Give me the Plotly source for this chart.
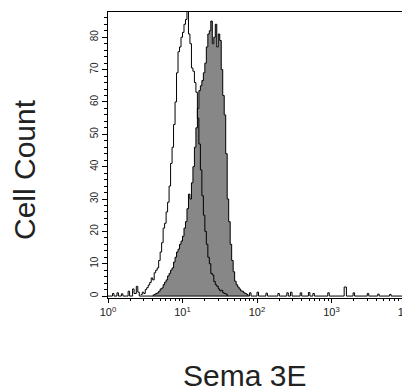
import plotly.graph_objects as go

# ---- data (log10 bin centres, counts) ----
open_log = [0.44, 0.46, 0.48, 0.50, 0.52, 0.54, 0.56, 0.58, 0.60, 0.62, 0.64, 0.66, 0.68,
            0.70, 0.72, 0.74, 0.76, 0.78, 0.80, 0.82, 0.84, 0.86, 0.88, 0.90, 0.92, 0.94,
            0.96, 0.98, 1.00, 1.02, 1.04, 1.06, 1.08, 1.10, 1.12, 1.14, 1.16, 1.18, 1.20,
            1.22, 1.24, 1.26, 1.28, 1.30, 1.32, 1.34, 1.36, 1.38, 1.40, 1.42, 1.44, 1.46,
            1.48, 1.50, 1.52, 1.54, 1.56, 1.58, 1.60]
open_count = [0.5, 1.2, 0.8, 2.0, 2.6, 3.4, 4.2, 5.6, 5.0, 7.2, 8.0, 8.7, 11.0,
              13.6, 16.5, 21.0, 22.5, 26.0, 29.0, 34.0, 41.0, 46.0, 53.0, 60.0, 69.0, 75.5,
              77.0, 80.0, 81.5, 84.0, 85.5, 88.0, 81.0, 78.0, 70.5, 69.5, 66.0, 63.0, 55.0,
              47.0, 39.0, 31.0, 25.0, 20.0, 16.0, 12.0, 10.0, 7.0, 6.5, 4.5, 3.5, 3.0,
              2.2, 1.6, 1.8, 1.0, 0.8, 0.6, 0.0]

filled_log = [0.60, 0.62, 0.64, 0.66, 0.68, 0.70, 0.72, 0.74, 0.76, 0.78, 0.80, 0.82, 0.84,
              0.86, 0.88, 0.90, 0.92, 0.94, 0.96, 0.98, 1.00, 1.02, 1.04, 1.06, 1.08, 1.10,
              1.12, 1.14, 1.16, 1.18, 1.20, 1.22, 1.24, 1.26, 1.28, 1.30, 1.32, 1.34, 1.36,
              1.38, 1.40, 1.42, 1.44, 1.46, 1.48, 1.50, 1.52, 1.54, 1.56, 1.58, 1.60, 1.62,
              1.64, 1.66, 1.68, 1.70, 1.72, 1.74, 1.76, 1.78, 1.80, 1.82, 1.84, 1.86, 1.88]
filled_count = [0.3, 0.5, 0.8, 1.0, 1.5, 2.2, 2.5, 3.5, 4.3, 5.0, 6.2, 7.0, 8.0,
                8.7, 10.5, 12.0, 13.6, 14.5, 16.0, 17.0, 18.5, 21.0, 23.0, 27.0, 31.5, 30.0,
                35.0, 40.0, 46.0, 52.0, 58.0, 63.5, 65.0, 66.6, 69.0, 72.0, 77.0, 81.0, 82.0,
                85.0, 78.0, 80.0, 84.0, 77.0, 81.0, 79.0, 70.0, 62.0, 56.0, 44.0, 30.0, 23.0,
                16.0, 11.0, 7.5, 4.6, 3.5, 2.8, 2.2, 1.6, 1.5, 1.0, 0.8, 0.5, 0.0]

noise_log = [0.00, 0.06, 0.08, 0.12, 0.14, 0.18, 0.20, 0.27, 0.29, 0.33, 0.35, 0.38,
             0.40, 0.42, 1.90, 1.92, 2.00, 2.02, 2.12, 2.14, 2.28, 2.30, 2.40, 2.42,
             2.45, 2.47, 2.58, 2.60, 2.69, 2.71, 2.75, 2.77, 2.95, 2.97, 3.17, 3.20,
             3.29, 3.31, 3.48, 3.50, 3.62, 3.64, 3.78, 3.80, 4.00]
noise_count = [0, 0.8, 0, 1.0, 0, 0.7, 0, 1.5, 0, 2.2, 0.8, 3.0,
               1.2, 0, 1.0, 0, 1.2, 0, 0.9, 0, 0.8, 0, 1.0, 0,
               1.2, 0, 1.0, 0, 1.1, 0, 0.8, 0, 1.0, 0, 2.8, 0,
               1.0, 0, 0.8, 0, 0.6, 0, 0.5, 0, 0]

x_tickvals = [1, 10, 100, 1000, 10000]
x_ticktext = ["10<sup>0</sup>", "10<sup>1</sup>", "10<sup>2</sup>", "10<sup>3</sup>", "10<sup>4</sup>"]
y_tickvals = [0, 10, 20, 30, 40, 50, 60, 70, 80]

FONT = "Liberation Sans, Arial, sans-serif"

fig = go.Figure()
fig.add_trace(go.Scatter(
    x=[10 ** v for v in filled_log], y=filled_count, mode="lines",
    line=dict(color="black", width=1, shape="hv"),
    fill="tozeroy", fillcolor="#878787", hoverinfo="skip"))
fig.add_trace(go.Scatter(
    x=[10 ** v for v in open_log], y=open_count, mode="lines",
    line=dict(color="black", width=1, shape="hv"), hoverinfo="skip"))
fig.add_trace(go.Scatter(
    x=[10 ** v for v in noise_log], y=noise_count, mode="lines",
    line=dict(color="black", width=1, shape="hv"), hoverinfo="skip"))

minor_x = [m * 10 ** k for k in range(4) for m in range(2, 10)]

# page body has an 8px default margin, so the figure is sized to compensate
fig.update_layout(
    width=402, height=382,
    margin=dict(l=100, r=4, t=4, b=92, autoexpand=False),
    paper_bgcolor="white", plot_bgcolor="white",
    showlegend=False,
    font=dict(family=FONT, color="#222222"),
    xaxis=dict(
        type="log", range=[0, 4], showgrid=False, zeroline=False, automargin=False,
        showline=True, linecolor="black", linewidth=1, mirror=True,
        tickmode="array", tickvals=x_tickvals, ticktext=x_ticktext,
        ticks="outside", ticklen=4, tickcolor="black", tickwidth=1,
        ticklabeloverflow="allow",
        tickfont=dict(size=11, family=FONT, color="#222222"),
        minor=dict(tickvals=minor_x, ticks="outside", ticklen=2, tickcolor="black", showgrid=False),
    ),
    yaxis=dict(
        range=[-0.6, 87.8], showgrid=False, zeroline=False, automargin=False,
        showline=True, linecolor="black", linewidth=1, mirror=True,
        tickmode="array", tickvals=y_tickvals,
        ticks="outside", ticklen=5, tickcolor="black", tickwidth=1,
        tickangle=-90,
        tickfont=dict(size=10, family=FONT, color="#222222"),
        minor=dict(dtick=2, ticks="outside", ticklen=3, tickcolor="black", showgrid=False),
    ),
    annotations=[
        dict(text="Cell Count", xref="paper", yref="paper", x=-0.2785, y=0.4476,
             xanchor="center", yanchor="middle", textangle=-90, showarrow=False,
             font=dict(size=30, family=FONT, color="#222222")),
        dict(text="Sema 3E", xref="paper", yref="paper", x=0.4564, y=-0.2727,
             xanchor="center", yanchor="middle", showarrow=False,
             font=dict(size=30, family=FONT, color="#222222")),
    ],
)

fig.write_html("out.html")
